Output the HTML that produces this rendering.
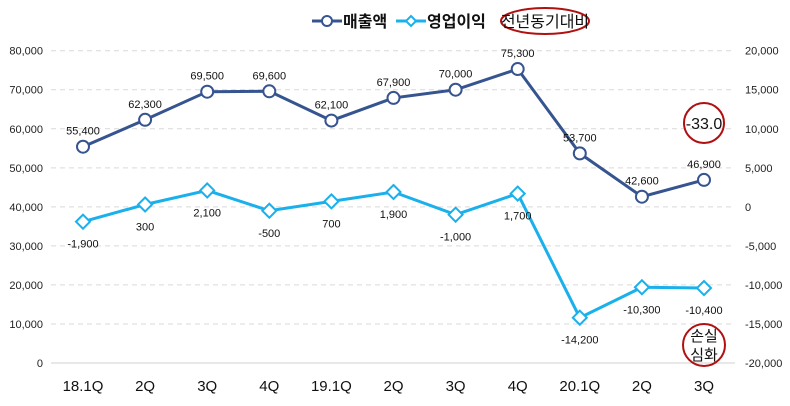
<!DOCTYPE html>
<html><head><meta charset="utf-8"><style>
body{margin:0;background:#fff}
#wrap{position:relative;width:790px;height:406px}
svg{display:block;font-family:"Liberation Sans","Noto Sans CJK KR",sans-serif}
</style></head><body>
<div id="wrap">
<svg id="c" width="790" height="406" viewBox="0 0 790 406"></svg>
<svg style="position:absolute;left:0;top:0" width="790" height="406">
<g>
<line x1="312" y1="21" x2="342" y2="21" stroke="#36548f" stroke-width="3"/><circle cx="327" cy="21" r="5" fill="#fff" stroke="#36548f" stroke-width="2"/>
<text x="343" y="27" font-size="16" font-weight="bold" fill="#111">매출액</text>
<line x1="396" y1="21" x2="426" y2="21" stroke="#1ab0ec" stroke-width="3"/><polygon points="411,16 416,21 411,26 406,21" fill="#fff" stroke="#1ab0ec" stroke-width="2"/>
<text x="427" y="27" font-size="16" font-weight="bold" fill="#111">영업이익</text>
<ellipse cx="545" cy="21" rx="44" ry="13" fill="none" stroke="#b01010" stroke-width="2"/>
<text x="545" y="27" font-size="16" text-anchor="middle" fill="#111">전년동기대비</text>
</g>
<g><circle cx="704" cy="123" r="20" fill="none" stroke="#b01010" stroke-width="2"/>
<text x="704" y="129" font-size="16" text-anchor="middle" fill="#111">-33.0</text></g>
<g><circle cx="704" cy="345" r="21" fill="none" stroke="#b01010" stroke-width="2"/>
<text x="704" y="341" font-size="15" text-anchor="middle" fill="#111">손실</text>
<text x="704" y="360" font-size="15" text-anchor="middle" fill="#111">심화</text></g>
</svg>
</div>
<script>
const categories=["18.1Q","2Q","3Q","4Q","19.1Q","2Q","3Q","4Q","20.1Q","2Q","3Q"];
const salesValues=[55400,62300,69500,69600,62100,67900,70000,75300,53700,42600,46900];
const profitValues=[-1900,300,2100,-500,700,1900,-1000,1700,-14200,-10300,-10400];
const leftTicks=[0,10000,20000,30000,40000,50000,60000,70000,80000];
const rightTicks=[-20000,-15000,-10000,-5000,0,5000,10000,15000,20000];
const svg=document.getElementById('c');const NS='http://www.w3.org/2000/svg';
function mk(t,a,p){const e=document.createElementNS(NS,t);for(const k in a)e.setAttribute(k,a[k]);(p||svg).appendChild(e);return e;}
const yTop=50.7,yBot=363,x0=83,dx=62.1;
const xs=i=>x0+i*dx;
const yL=v=>yBot-(v/80000)*(yBot-yTop);
const yR=v=>yBot-((v+20000)/40000)*(yBot-yTop);
const fmt=v=>v.toLocaleString('en-US');
const sales='#36548f',prof='#1ab0ec';
leftTicks.forEach(v=>{const y=yL(v);
 const g=mk('line',{x1:51,x2:735,y1:y,y2:y,stroke:v===0?'#d0d0d0':'#d9d9d9','stroke-dasharray':v===0?'':'5,4','stroke-width':1});
 
 
 const t=mk('text',{x:43,y:y+4,'text-anchor':'end','font-size':11,fill:'#222'});t.textContent=fmt(v);
 
 });
rightTicks.forEach(v=>{const t=mk('text',{x:745,y:yR(v)+4,'font-size':11,fill:'#222'});t.textContent=fmt(v);
 
 });
categories.forEach((c,i)=>{const t=mk('text',{x:xs(i),y:391,'text-anchor':'middle','font-size':15,fill:'#111'});t.textContent=c;
 
 });
const sl=mk('polyline',{points:salesValues.map((v,i)=>xs(i)+','+yL(v)).join(' '),fill:'none',stroke:sales,'stroke-width':3});


const pl=mk('polyline',{points:profitValues.map((v,i)=>xs(i)+','+yR(v)).join(' '),fill:'none',stroke:prof,'stroke-width':3});


salesValues.forEach((v,i)=>{const x=xs(i),y=yL(v);
 const m=mk('circle',{cx:x,cy:y,r:6,fill:'#fff',stroke:sales,'stroke-width':2});
 
 
 const t=mk('text',{x:x,y:y-12,'text-anchor':'middle','font-size':11,fill:'#111'});t.textContent=fmt(v);
 
 });
profitValues.forEach((v,i)=>{const x=xs(i),y=yR(v);
 const m=mk('polygon',{points:`${x},${y-7} ${x+7},${y} ${x},${y+7} ${x-7},${y}`,fill:'#fff',stroke:prof,'stroke-width':2});
 
 
 const t=mk('text',{x:x,y:y+26,'text-anchor':'middle','font-size':11,fill:'#111'});t.textContent=fmt(v);
 
 });
</script>
</body></html>
